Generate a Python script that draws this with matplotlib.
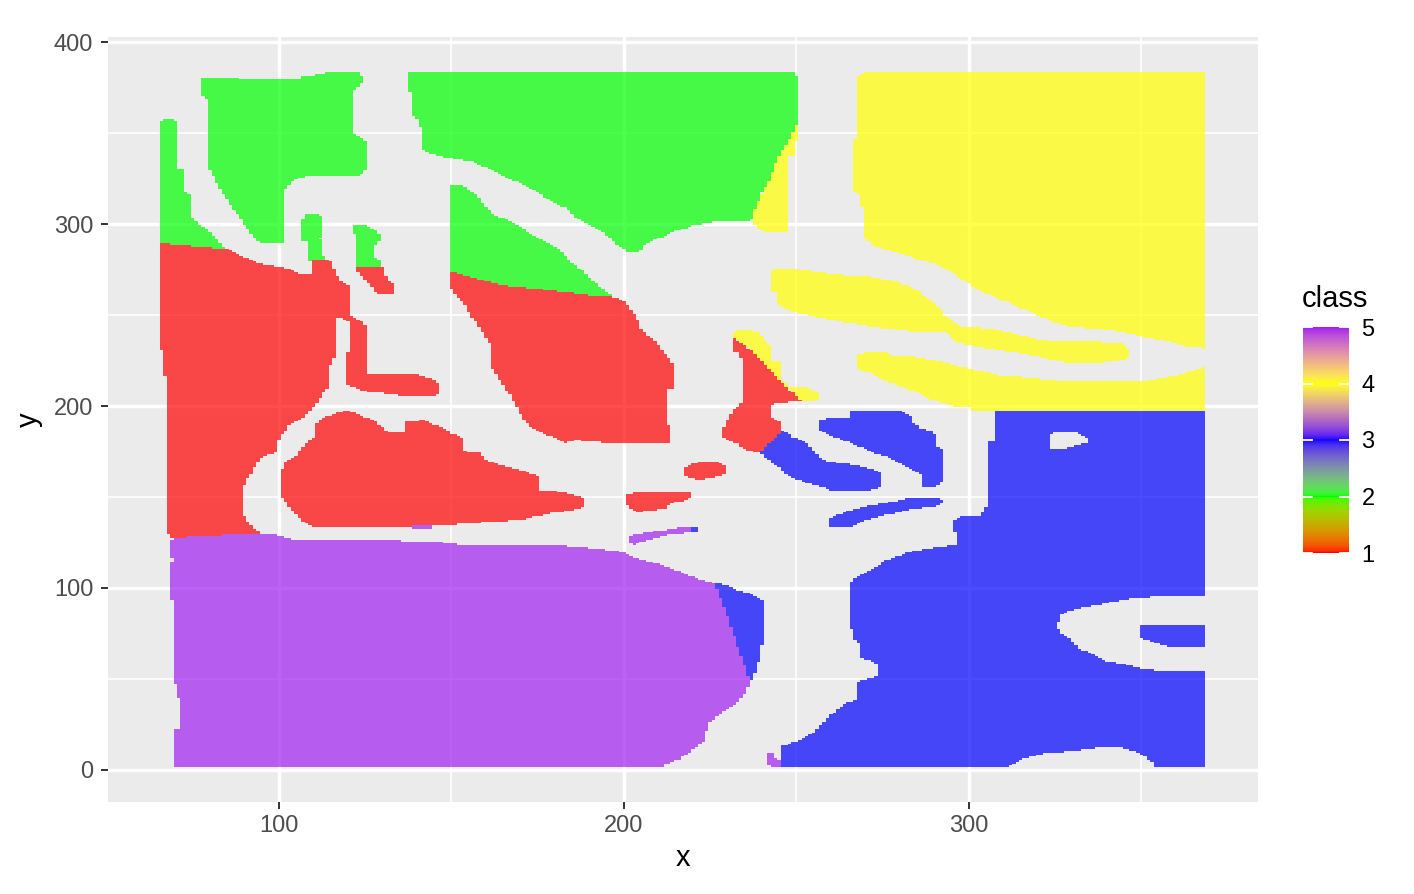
import numpy as np
import matplotlib
matplotlib.use("Agg")
import matplotlib.pyplot as plt
from matplotlib.path import Path
from matplotlib.colors import ListedColormap, Normalize
from matplotlib.ticker import FixedLocator
import matplotlib.cm as cm

plt.rcParams['font.family'] = ['Liberation Sans', 'DejaVu Sans']

# ---------------- data ----------------
# raster cell centres (1 unit cells)
x_centers = np.arange(66, 369)
y_centers = np.arange(2, 384)

class_values = [1, 2, 3, 4, 5]
class_colors = ['#FF0000', '#00FF00', '#0000FF', '#FFFF00', '#A020F0']
fill_alpha = 0.7

x_breaks = [100, 200, 300]
y_breaks = [0, 100, 200, 300, 400]

# class region outlines (data units)
green_strip = [(65.6, 289.5), (65.6, 356), (67, 357.5), (69.5, 357.5), (70.5, 356), (70.5, 331),
               (72.5, 330), (72.5, 318), (74.5, 316), (74.5, 304), (77, 300), (80, 296), (84, 288), (86, 286)]
green_blob = [(77.6, 380.6), (85.2, 380.6), (90.6, 379.5), (105.6, 379), (107, 381.5), (110.4, 382),
              (113.8, 383), (123.5, 383), (124.3, 381), (124.3, 377.5), (122.5, 375), (121.5, 372),
              (121.5, 350), (123.5, 348), (125.4, 344.5), (125.4, 330), (123.5, 327), (115.7, 326),
              (107.5, 326), (105, 324.5), (102.5, 321), (101.2, 318), (101.2, 290), (94.5, 289.5),
              (93, 292), (91.6, 296), (89.5, 301), (87.7, 306), (85.8, 311), (83.9, 317), (82, 322),
              (80.5, 328.5), (79.5, 331), (79.5, 367), (78.6, 369), (77.6, 371)]
green_sliver_a = [(107.5, 305), (112, 305), (112.4, 303), (112.4, 294), (112, 292), (112.4, 283),
                  (114.8, 279.5), (108, 279.5), (108, 290), (106.6, 291), (106.6, 300.5)]
green_sliver_b = [(121.5, 299), (125.4, 299), (127.5, 297), (129.3, 294), (129.3, 291), (127.8, 288),
                  (127.8, 282), (128.8, 281), (130, 276), (122.6, 276), (122.6, 294), (121.5, 295)]
green_top = [(137.7, 384), (248.6, 384), (250.4, 381), (250.4, 356), (247.5, 345), (244.7, 337),
             (242.3, 325), (240, 317), (238, 308.6), (237, 302), (225.8, 301), (220, 299), (213.3, 295),
             (206, 288.5), (204.6, 284), (201.7, 284), (198.8, 287.5), (196, 292), (193, 296.7),
             (189, 300), (185.8, 304), (183.4, 308.7), (178.6, 313), (173.7, 318.7), (169, 323),
             (164, 327), (160, 331), (156, 334), (149, 336.4), (143.5, 339), (141.5, 340.6),
             (141.5, 350), (140.6, 357), (138.6, 360), (138.6, 372), (137.7, 372)]
green_mid = [(149.6, 321), (153.3, 321), (155, 319), (157, 316.5), (161.6, 305.8), (164, 304),
             (167, 301.5), (173.7, 294), (177, 291), (181.4, 285.7), (184.8, 279.3), (187.5, 275),
             (190.6, 269), (193, 266), (196.8, 260), (189.6, 261), (176.6, 264), (164, 266.5), (149.6, 274)]

red_left = [(65.6, 289.5), (86, 286), (90, 282), (94.5, 278.5), (100.3, 276.5), (104, 274.5), (107, 272),
            (109.5, 273), (109.5, 280), (114.8, 280), (115.7, 276.5), (117.7, 269), (121, 265), (121, 250),
            (124, 247), (125.4, 243.5), (125.4, 218), (131.6, 217), (141, 217), (144.6, 215), (146.7, 212),
            (146.7, 207), (144.6, 205), (136, 205.5), (130, 207), (125.4, 208), (121.5, 210.5),
            (119.6, 212), (119.6, 218), (120.6, 245.5), (118, 248), (116.2, 248), (116.2, 227), (115, 222),
            (114.3, 218.7), (114.3, 210.5), (113, 207), (110, 199), (106, 192), (103, 189), (101.3, 185),
            (99.3, 180), (99.3, 175), (95.5, 172), (93.5, 169), (92.5, 164), (90.6, 159), (89.6, 154),
            (89.6, 141), (91, 137), (92.5, 133.5), (95.5, 129), (68.4, 127), (67.4, 133.5), (67.4, 216),
            (66.3, 216), (65.6, 250)]
red_sliver_b = [(122.6, 276.5), (130.2, 276), (131.2, 270), (133.6, 266.5), (133.6, 262.6), (132.2, 261),
                (129.3, 261), (127.8, 263), (125.4, 269), (123.5, 272), (122.6, 274)]
red_mid = [(149.6, 274), (164, 266.5), (176.6, 264), (189.6, 261), (196.8, 260), (199.8, 258),
           (201.5, 254), (203.7, 249), (204.5, 245), (205.5, 240.8), (207.5, 238), (209.5, 234.6),
           (211, 231), (212.4, 228), (213.5, 225), (214.8, 221.5), (214.8, 209), (212.8, 209),
           (212.8, 190.6), (213.3, 189), (213.3, 179.6), (196.8, 179.6), (190, 180.5), (185.8, 181.5),
           (182.9, 179.6), (180, 182.4), (177, 184.5), (174, 187), (171.3, 192), (169.3, 198),
           (167.4, 205), (165.5, 210), (163.5, 216), (161.6, 221.5), (161.6, 232.5), (159.7, 238),
           (157.7, 244.5), (155.5, 250), (153.9, 255.5), (151, 261), (149.6, 265.6)]
red_low = [(100.8, 164), (101.5, 168.6), (104.6, 172), (107, 177.6), (110, 183), (110, 188), (111.9, 192.3),
           (115, 195), (119.6, 197.8), (123.5, 195), (127, 192.5), (132.2, 185.3), (136, 185.7), (136, 191),
           (141.8, 192.3), (146.7, 188.6), (150, 185), (153.4, 182), (153.4, 176), (154.4, 174.8),
           (158.3, 174), (160.2, 170.3), (164, 167.6), (169.9, 164.8), (172.7, 163), (176, 161),
           (176, 155.7), (175.6, 153.8), (181.4, 152.9), (185, 151.5), (188.7, 149.5), (188.7, 144.7),
           (185.2, 142.8), (178.6, 141), (175, 139.5), (169.9, 137.4), (162, 136.4), (154.4, 135.6),
           (149.6, 134.6), (134.5, 133.3), (110.4, 133.2), (107, 136.5), (103.7, 143), (101.5, 148.4),
           (100.8, 150)]
red_oval = [(217.7, 166), (219, 168), (222, 169.4), (227, 169.4), (229.6, 166.5), (229.6, 163.5),
            (227, 161), (222, 159.7), (218.5, 160.5), (217.7, 162)]
red_dash = [(200.8, 151), (202, 152), (211.3, 152.3), (218.3, 152.7), (219.6, 152), (219.6, 149.5),
            (217, 147.8), (213.3, 146.5), (212.5, 143.8), (207, 142.2), (203.7, 141.6), (201.5, 143.5),
            (200.8, 145.6)]
red_wedge = [(231.7, 238.5), (233, 236), (236, 232), (240.4, 223.5), (245.2, 214.3), (248, 209),
             (251.5, 202.4), (244.3, 201.6), (242.8, 200), (242.8, 194), (246, 190), (246, 186.8),
             (239.4, 174), (235, 176.5), (233.6, 178.6), (230.5, 181), (228.8, 183), (228.8, 188),
             (229.8, 192.3), (231.6, 197.8), (233.6, 200), (234.8, 206), (234.8, 224.3), (233, 229.6),
             (231.7, 230)]

yellow_tri = [(237, 302), (238, 308.6), (240, 317), (242.3, 325), (244.7, 337), (247.5, 345),
              (250.4, 356), (250.4, 345), (249.6, 345), (249.6, 337), (247.5, 337), (247.5, 296),
              (245, 295), (241, 295), (239.4, 297)]
yellow_big = [(269.9, 384), (368.9, 384), (368.9, 231.7), (364, 232.5), (359, 234.5), (355.4, 236.3),
              (349.6, 238.5), (345, 240), (339.9, 241.8), (333, 243), (328.3, 244), (324.4, 246.3),
              (320, 249.5), (316.7, 252.7), (311, 257), (306.1, 261), (302.5, 264), (299.8, 267.4),
              (297.5, 270), (295.4, 273.3), (292.5, 276), (289.7, 278.4), (285.5, 280.5), (282.9, 282.4),
              (278, 284.5), (274.7, 286.6), (272, 288.5), (269.9, 292), (269.9, 309.5), (268.9, 309.5),
              (268.9, 315), (266.7, 317.8), (266.7, 346), (267.9, 346), (267.9, 381), (269, 383)]
yellow_band = [(242.8, 274.7), (243.8, 275.5), (248.6, 275.5), (255.8, 273.8), (260.6, 272.3),
               (269.9, 271.4), (275, 270), (279, 268.3), (282.9, 265.6), (285.8, 262.3), (288.5, 258.5),
               (291.1, 254.6), (293, 250), (295.5, 246.5), (297.9, 244), (305.1, 242.7), (310, 241),
               (314.8, 239), (319.5, 237), (324, 235.3), (342.8, 234.9), (345, 233.5), (346.7, 229.8),
               (346.7, 227), (344.5, 225.5), (341.8, 224.3), (337, 223.5), (331.2, 223), (327, 224.2),
               (324.4, 225.3), (319, 227.5), (314.8, 229), (310, 230.2), (306.1, 231.3), (300, 233.5),
               (297.4, 234.6), (295, 237), (293.5, 240), (289, 240.3), (282.9, 240.8), (278, 242),
               (270.8, 244), (265, 245.6), (260.6, 247.3), (256.8, 248.5), (253, 250), (249.1, 251.8),
               (246.5, 253.5), (244.7, 255.5), (244.7, 262), (242.8, 262)]
yellow_low = [(267.9, 228), (270.3, 229.8), (275, 229.8), (277.5, 228), (284.8, 227), (289, 225.5),
              (293.5, 223.4), (297, 222), (299.8, 220.7), (303, 219.5), (306.1, 218.3), (309, 217),
              (315, 216.2), (320, 215.2), (328.7, 213.3), (349.6, 213.3), (353.4, 214.7), (357, 216),
              (360.2, 217), (363, 218.5), (366.9, 220.7), (368.9, 222), (368.9, 197.4), (300.8, 197.4),
              (300.8, 199.6), (296, 199.6), (292.5, 201.5), (289.5, 203.5), (286.8, 206), (284, 208),
              (281, 210.3), (276.2, 213.4), (273.5, 215.5), (270.8, 218.3), (268.9, 219.8), (267.9, 220.7)]
yellow_edge = [(231.7, 240.8), (235.5, 241.8), (239.4, 240), (242.3, 232.6), (242.3, 225), (245.2, 224),
               (245.2, 214), (248, 211), (253, 210.6), (256.2, 207), (256.2, 203.3), (254.5, 202),
               (251.5, 202.4), (248, 209), (245.2, 214.3), (240.4, 223.5), (236, 232), (233, 236),
               (231.7, 238.5)]

blue_band = [(239.4, 174), (246, 186.8), (249, 183), (253, 179.6), (254.9, 175.8), (257.7, 170.3),
             (262, 169), (267.4, 167.6), (271, 166), (274.2, 163), (274.2, 155.5), (272, 154),
             (268.4, 153), (261.6, 153), (256.8, 155.7), (252, 158.5), (248, 161), (245.2, 165.9), (242, 170)]
blue_hook = [(256.8, 192.9), (265, 193.4), (266, 197.8), (278.6, 197.8), (280.9, 197), (283.8, 194),
             (283.8, 191), (286, 188), (289.6, 185.8), (290.6, 183), (290.6, 177.6), (292, 177),
             (292.5, 166.6), (292.5, 160.4), (290.6, 155), (286.7, 155.5), (286.7, 162), (283.8, 165),
             (280.9, 167.6), (277, 171.4), (272, 174.5), (268.4, 177.6), (264.5, 180.5), (261.5, 182.5),
             (258.7, 185), (256.8, 186.8)]
blue_streak = [(259.2, 137.4), (260.6, 139), (264.5, 141.9), (272.2, 145.6), (281.9, 149), (285.8, 149.7),
               (291.6, 149.7), (292.5, 148), (292.5, 146.7), (289.6, 144.7), (283, 143.2), (276, 140),
               (270, 137), (266.4, 133.7), (259.8, 133.5)]
blue_big = [(307, 197.4), (368.9, 197.4), (368.9, 95.6), (357, 95.6), (347.6, 94.3), (343.5, 93),
            (339.9, 91.6), (336, 90), (332.2, 88.8), (328.3, 87), (327, 85), (325.9, 81.5), (325.9, 77.9),
            (327, 75), (328.6, 73.3), (330, 70.5), (332.2, 66), (336, 64), (338.9, 60.4), (344, 58.5),
            (347.6, 56.8), (351, 55.5), (357.3, 54.1), (368.9, 54), (368.9, 1.5), (353.4, 1.5), (353.4, 4),
            (351.5, 6.5), (349.6, 9.5), (346, 11.5), (341.8, 12.8), (336, 11.9), (330, 10.3), (322.5, 9.2),
            (318, 7.5), (314.8, 5.5), (310.9, 1.5), (245.7, 1.5), (245.7, 10), (245.2, 12.8), (248, 14.5),
            (251, 16.5), (254.5, 19.5), (256.8, 23.7), (258.7, 28.3), (261.5, 32.5), (264.5, 36.8),
            (267.4, 38.5), (267.4, 48.5), (271.3, 50.4), (273.7, 52.2), (273.7, 57.7), (270.8, 60.4),
            (268, 62.1), (268, 69.8), (266, 72.5), (266, 77), (265, 77.9), (265, 102.6), (268.4, 107),
            (272.5, 111), (276.1, 115.4), (281.9, 119), (286, 121), (291.6, 122.7), (296, 123.6),
            (296, 130), (295, 130), (295, 136.4), (297.9, 139.6), (303.2, 140), (305.9, 146.6),
            (305.9, 180.5), (307, 180.5)]
blue_bar = [(349.1, 79.7), (368.9, 79.7), (368.9, 67), (362, 67.5), (357.8, 67.8), (353, 70.5), (349.1, 72.5)]
blue_side = [(225.9, 102.6), (229, 102), (232.7, 98.9), (237, 96.5), (239.4, 94.3), (240.9, 92),
             (240.9, 68.7), (239.4, 67.8), (239.4, 59.5), (238.6, 58.8), (238.6, 53.9), (237.5, 53.3),
             (237.5, 49.5), (236.2, 49.5), (235.5, 55), (234.6, 60.4), (233.5, 65), (232.7, 69.6),
             (231.7, 75), (230.7, 80.6), (229.7, 86), (228.8, 90.7), (227.8, 95.5), (226.9, 99.8)]
blue_tip = [(219.3, 133.7), (221.2, 133.2), (221.2, 130.2), (219.3, 130.5)]

purple_big = [(68.4, 126.7), (71.3, 127.8), (82.4, 128.9), (93.5, 129.7), (99.3, 129), (104.6, 126.7),
              (144.7, 125.8), (149.6, 124.5), (153.4, 123.4), (169.9, 123.6), (183.9, 123), (190, 122),
              (195.4, 120.9), (199.8, 119.6), (203, 117), (205.6, 115.4), (208.5, 114), (211.4, 112.1),
              (215, 110), (217.7, 107.7), (221, 105.5), (223.5, 104), (225.9, 102.6), (226.9, 99.8),
              (227.8, 95.5), (228.8, 90.7), (229.7, 86), (230.7, 80.6), (231.7, 75), (232.7, 69.6),
              (233.5, 65), (234.6, 60.4), (235.5, 55), (236.2, 49.5), (236.5, 47.6), (235.4, 43),
              (233.6, 38.5), (231.7, 34.8), (229, 32), (225.9, 27.5), (224.4, 25.8), (224.4, 22),
              (223.5, 21), (223.5, 16.5), (222, 14), (219, 9.5), (215.7, 5.5), (211.4, 3), (211.4, 1.5),
              (69.6, 1.5), (69.6, 22), (71.3, 22.4), (71.3, 39.4), (70.3, 39.4), (70.3, 47.6), (69.6, 47.6),
              (69.6, 93.8), (68.4, 93.8), (68.4, 114.5), (69.6, 114.5), (69.6, 116), (68.4, 116)]
purple_dash = [(201.7, 128.6), (203.5, 129.5), (207, 130.5), (212.4, 131.9), (217.1, 133.7), (219.3, 133.7),
               (219.3, 130.5), (213, 129), (207, 126.5), (203, 123.6), (201.7, 125)]
purple_bit = [(138.5, 134.2), (144.7, 134.2), (144.7, 132), (138.5, 132)]
purple_foot = [(241.7, 9.5), (243.8, 10), (243.8, 7), (245.7, 5), (245.7, 1.5), (242.5, 1.5), (241.7, 3)]

hole_oval = [(323, 183.5), (324.5, 185), (332, 185), (334.6, 181.5), (334.6, 180), (332, 178.5),
             (329, 177), (325, 176), (323, 177)]

class_regions = [
    (2, green_strip), (2, green_blob), (2, green_sliver_a), (2, green_sliver_b), (2, green_top), (2, green_mid),
    (1, red_left), (1, red_sliver_b), (1, red_mid), (1, red_low), (1, red_oval), (1, red_dash), (1, red_wedge),
    (4, yellow_tri), (4, yellow_big), (4, yellow_band), (4, yellow_low), (4, yellow_edge),
    (3, blue_band), (3, blue_hook), (3, blue_streak), (3, blue_big), (3, blue_bar), (3, blue_side), (3, blue_tip),
    (5, purple_big), (5, purple_dash), (5, purple_bit), (5, purple_foot),
]
empty_regions = [hole_oval]

# ---------------- colour scale (CIELAB interpolation like ggplot) ----------------
_M = np.array([[0.4124564, 0.3575761, 0.1804375],
               [0.2126729, 0.7151522, 0.0721750],
               [0.0193339, 0.1191920, 0.9503041]])
_WP = np.array([0.95047, 1.0, 1.08883])


def srgb_to_lab(rgb):
    rgb = np.asarray(rgb, float)
    lin = np.where(rgb <= 0.04045, rgb / 12.92, ((rgb + 0.055) / 1.055) ** 2.4)
    t = (lin @ _M.T) / _WP
    d = 6 / 29
    f = np.where(t > d ** 3, np.cbrt(t), t / (3 * d * d) + 4 / 29)
    return np.stack([116 * f[..., 1] - 16, 500 * (f[..., 0] - f[..., 1]), 200 * (f[..., 1] - f[..., 2])], -1)


def lab_to_srgb(lab):
    fy = (lab[..., 0] + 16) / 116
    fx = fy + lab[..., 1] / 500
    fz = fy - lab[..., 2] / 200
    d = 6 / 29
    finv = lambda f: np.where(f > d, f ** 3, 3 * d * d * (f - 4 / 29))
    xyz = np.stack([finv(fx), finv(fy), finv(fz)], -1) * _WP
    lin = np.clip(xyz @ np.linalg.inv(_M).T, 0, 1)
    rgb = np.where(lin <= 0.0031308, 12.92 * lin, 1.055 * lin ** (1 / 2.4) - 0.055)
    return np.clip(rgb, 0, 1)


anchor_rgb = np.array([matplotlib.colors.to_rgb(c) for c in class_colors])
anchor_lab = srgb_to_lab(anchor_rgb)
anchor_pos = (np.array(class_values, float) - class_values[0]) / (class_values[-1] - class_values[0])
N = 401
tt = np.linspace(0, 1, N)
lab_ramp = np.stack([np.interp(tt, anchor_pos, anchor_lab[:, k]) for k in range(3)], -1)
cmap = ListedColormap(lab_to_srgb(lab_ramp))
cmap.set_bad((0, 0, 0, 0))
norm = Normalize(vmin=class_values[0], vmax=class_values[-1])

# ---------------- rasterise regions onto the grid ----------------
XX, YY = np.meshgrid(x_centers, y_centers)
pts = np.column_stack([XX.ravel(), YY.ravel()])
Z = np.full(XX.shape, np.nan)
for cls, poly in class_regions:
    m = Path(poly).contains_points(pts).reshape(XX.shape)
    Z[m] = cls
for poly in empty_regions:
    m = Path(poly).contains_points(pts).reshape(XX.shape)
    Z[m] = np.nan

x_edges = np.concatenate([x_centers - 0.5, [x_centers[-1] + 0.5]])
y_edges = np.concatenate([y_centers - 0.5, [y_centers[-1] + 0.5]])

# ---------------- figure ----------------
W, H = 1414, 894
fig = plt.figure(figsize=(W / 100, H / 100), dpi=100)
ax = fig.add_axes([107.5 / W, 1 - 802 / H, (1257.6 - 107.5) / W, (802 - 37.3) / H])
ax.set_facecolor('#EBEBEB')
ax.pcolormesh(x_edges, y_edges, np.ma.masked_invalid(Z), cmap=cmap, norm=norm, alpha=fill_alpha,
              antialiased=False, edgecolors='none', zorder=2)

xr = x_edges[-1] - x_edges[0]
yr = y_edges[-1] - y_edges[0]
ax.set_xlim(x_edges[0] - 0.05 * xr, x_edges[-1] + 0.05 * xr)
ax.set_ylim(y_edges[0] - 0.05 * yr, y_edges[-1] + 0.05 * yr)

ax.xaxis.set_major_locator(FixedLocator(x_breaks))
ax.yaxis.set_major_locator(FixedLocator(y_breaks))
ax.xaxis.set_minor_locator(FixedLocator([50, 150, 250, 350]))
ax.yaxis.set_minor_locator(FixedLocator([50, 150, 250, 350]))
ax.set_axisbelow(True)
ax.grid(which='major', color='white', linewidth=2.5, zorder=0.5)
ax.grid(which='minor', color='white', linewidth=1.2, zorder=0.5)
for s in ax.spines.values():
    s.set_visible(False)
ax.tick_params(which='major', length=5.3, width=1.4, color='#333333', labelcolor='#4D4D4D',
               labelsize=17, pad=4)
ax.tick_params(axis='y', which='major', pad=5)
ax.tick_params(which='minor', length=0)
ax.set_xlabel('x', fontsize=21, color='black', labelpad=5)
ax.set_ylabel('y', fontsize=21, color='black', labelpad=8)

# legend colourbar
cax = fig.add_axes([1303 / W, 1 - 553 / H, 46 / W, (553 - 327) / H])
sm = cm.ScalarMappable(norm=norm, cmap=cmap)
cb = fig.colorbar(sm, cax=cax, ticks=class_values)
cb.outline.set_visible(False)
cax.tick_params(length=0, labelsize=17, pad=9, labelcolor='black')
tr = cax.get_yaxis_transform()
for v in class_values:
    cax.plot([0, 0.2], [v, v], color='white', lw=1.3, transform=tr, clip_on=False)
    cax.plot([0.8, 1.0], [v, v], color='white', lw=1.3, transform=tr, clip_on=False)
fig.text(1302 / W, 1 - 299 / H, 'class', fontsize=21, ha='left', va='center', color='black')

fig.savefig('out.png', dpi=100)
